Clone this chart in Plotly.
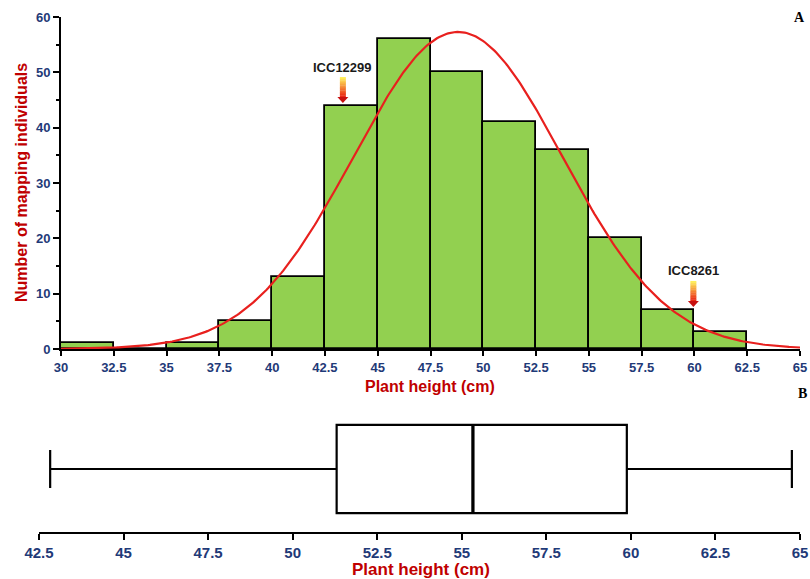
import numpy as np
import plotly.graph_objects as go

# ---------------- data ----------------
bin_starts = [30, 32.5, 35, 37.5, 40, 42.5, 45, 47.5, 50, 52.5, 55, 57.5, 60]
counts = [1, 0, 1, 5, 13, 44, 56, 50, 41, 36, 20, 7, 3]
bin_width = 2.5

fit_mean = 48.8
fit_sd = 4.95
fit_peak = 57.3

x_ticks_top = [30, 32.5, 35, 37.5, 40, 42.5, 45, 47.5, 50, 52.5, 55, 57.5, 60, 62.5, 65]
y_ticks_top = [0, 10, 20, 30, 40, 50, 60]

box_min = 42.83
box_q1 = 51.3
box_median = 55.33
box_q3 = 59.88
box_max = 64.76
x_ticks_bottom = [42.5, 45, 47.5, 50, 52.5, 55, 57.5, 60, 62.5, 65]

marked_lines = ["ICC12299", "ICC8261"]
marked_x = [43.35, 59.95]
marked_tip = [44.45, 7.6]

# ---------------- styles ----------------
W, H = 810, 579
NAVY = "#1F3A78"
RED_T = "#C00000"
FONT = "Arial, Liberation Sans, sans-serif"

fig = go.Figure()

centers = [s + bin_width / 2 for s in bin_starts]
fig.add_trace(go.Bar(
    x=centers, y=counts, width=bin_width,
    marker=dict(color="#92D050", line=dict(color="black", width=1.8)),
    xaxis="x", yaxis="y", showlegend=False, hoverinfo="x+y",
))

xc = np.linspace(30, 65, 400)
yc = fit_peak * np.exp(-0.5 * ((xc - fit_mean) / fit_sd) ** 2)
fig.add_trace(go.Scatter(
    x=xc, y=yc, mode="lines", line=dict(color="#E8201E", width=2.2),
    xaxis="x", yaxis="y", showlegend=False, hoverinfo="skip",
))

box_w = 0.7
fig.add_trace(go.Box(
    q1=[box_q1], median=[box_median], q3=[box_q3],
    lowerfence=[box_min], upperfence=[box_max],
    y=[0], orientation="h", width=box_w, whiskerwidth=0.43,
    fillcolor="white", line=dict(color="black", width=2.2),
    xaxis="x2", yaxis="y2", showlegend=False, boxpoints=False,
))

# plot area geometry (pixels)
top_l, top_r, top_t, top_b = 61, 800, 17, 349
bot_l, bot_r, bot_t, bot_b = 39, 800, 406, 532

axis_common = dict(
    showline=True, linecolor="black", linewidth=2,
    ticks="outside", tickcolor="black", tickwidth=2,
    showgrid=False, zeroline=False, automargin=False,
)

fig.update_layout(
    width=W, height=H,
    margin=dict(l=0, r=0, t=0, b=0, autoexpand=False),
    paper_bgcolor="white", plot_bgcolor="white",
    bargap=0,
    xaxis=dict(
        domain=[top_l / W, top_r / W], range=[30, 65],
        tickvals=x_ticks_top, ticklen=5,
        tickfont=dict(family=FONT, size=13, color=NAVY, weight="bold"),
        anchor="y", **axis_common,
    ),
    yaxis=dict(
        domain=[(H - top_b) / H, (H - top_t) / H], range=[0, 60],
        tickvals=y_ticks_top, ticklen=6,
        minor=dict(dtick=5, ticks="outside", ticklen=3, tickcolor="black", tickwidth=2),
        tickfont=dict(family=FONT, size=13, color=NAVY, weight="bold"),
        anchor="x", **axis_common,
    ),
    xaxis2=dict(
        domain=[bot_l / W, bot_r / W], range=[42.5, 65],
        tickvals=x_ticks_bottom, ticklen=6,
        tickfont=dict(family=FONT, size=15, color=NAVY, weight="bold"),
        anchor="y2", **axis_common,
    ),
    yaxis2=dict(
        domain=[(H - bot_b) / H, (H - bot_t) / H], range=[-0.5, 0.5],
        visible=False, anchor="x2", automargin=False,
    ),
)

ann = []
ann.append(dict(text="Number of mapping individuals", textangle=-90,
                x=21 / W, y=(H - 183) / H, xref="paper", yref="paper",
                showarrow=False, xanchor="center", yanchor="middle",
                font=dict(family=FONT, size=16, color=RED_T, weight="bold")))
ann.append(dict(text="Plant height (cm)", x=430 / W, y=(H - 387) / H,
                xref="paper", yref="paper", showarrow=False,
                xanchor="center", yanchor="middle",
                font=dict(family=FONT, size=16, color=RED_T, weight="bold")))
ann.append(dict(text="Plant height (cm)", x=421 / W, y=(H - 569) / H,
                xref="paper", yref="paper", showarrow=False,
                xanchor="center", yanchor="middle",
                font=dict(family=FONT, size=17, color=RED_T, weight="bold")))
ann.append(dict(text="A", x=799 / W, y=(H - 17) / H, xref="paper", yref="paper",
                showarrow=False, xanchor="center", yanchor="middle",
                font=dict(family="Liberation Serif, Times New Roman, serif",
                          size=14, color="black", weight="bold")))
ann.append(dict(text="B", x=802 / W, y=(H - 393) / H, xref="paper", yref="paper",
                showarrow=False, xanchor="center", yanchor="middle",
                font=dict(family="Liberation Serif, Times New Roman, serif",
                          size=14, color="black", weight="bold")))

# gradient arrows, sized in pixels converted to data units
ux = 35 / (top_r - top_l)   # data units per px (x)
uy = 60 / (top_b - top_t)   # data units per px (y)
shaft_len_px, head_len_px = 20, 6
shaft_hw_px, head_hw_px = 3, 5.5
label_gap_px = 10

shapes = []
# thicker median line, as in the reference
shapes.append(dict(type="line", xref="x2", yref="y2",
                   x0=box_median, x1=box_median, y0=-box_w / 2, y1=box_w / 2,
                   line=dict(color="black", width=3.2), layer="above"))

n_seg = 12
c_top = np.array([255, 240, 90])
c_bot = np.array([235, 40, 20])
for name, xa, tip in zip(marked_lines, marked_x, marked_tip):
    y_head = tip + head_len_px * uy
    y_top = y_head + shaft_len_px * uy
    for k in range(n_seg):
        t = k / (n_seg - 1)
        col = c_top * (1 - t) + c_bot * t
        y1 = y_top - k * (y_top - y_head) / n_seg
        y0 = y_top - (k + 1) * (y_top - y_head) / n_seg
        shapes.append(dict(type="rect", xref="x", yref="y",
                           x0=xa - shaft_hw_px * ux, x1=xa + shaft_hw_px * ux,
                           y0=y0 - 0.05, y1=y1,
                           fillcolor="rgb(%d,%d,%d)" % tuple(col.astype(int)),
                           line=dict(width=0), layer="above"))
    shapes.append(dict(type="path", xref="x", yref="y",
                       path="M %f,%f L %f,%f L %f,%f Z" % (
                           xa - head_hw_px * ux, y_head,
                           xa + head_hw_px * ux, y_head,
                           xa, tip),
                       fillcolor="#C81010", line=dict(width=0), layer="above"))
    ann.append(dict(text=name, x=xa, y=y_top + label_gap_px * uy,
                    xref="x", yref="y", showarrow=False,
                    xanchor="center", yanchor="middle",
                    font=dict(family=FONT, size=13, color="#1a1a1a", weight="bold")))

fig.update_layout(annotations=ann, shapes=shapes)

fig.write_html("out.html",
               config={"displayModeBar": False},
               post_script="document.body.style.margin='0';document.body.style.overflow='hidden';")
